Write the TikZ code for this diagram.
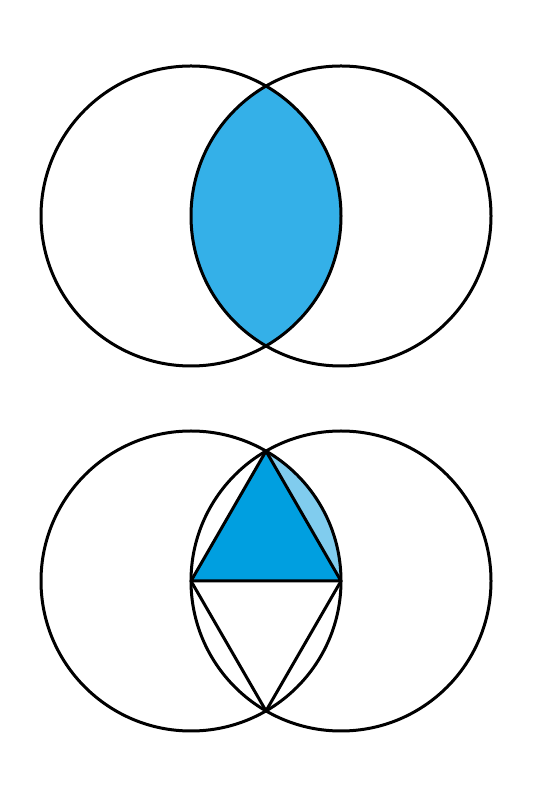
\documentclass[tikz,border=0pt]{standalone}
\begin{document}
\begin{tikzpicture}[x=1pt,y=1pt,
  outline/.style={draw=black,line width=3pt,line join=round},
  lensfill/.style={fill={rgb,255:red,52;green,176;blue,232}},
  trifill/.style={fill={rgb,255:red,0;green,159;blue,224}},
  segfill/.style={fill={rgb,255:red,128;green,204;blue,238}}]
\useasboundingbox (0,0) rectangle (533,800);
% top pair
\coordinate (TL) at (191,584);
\coordinate (TR) at (341,584);
\begin{scope}
  \clip (TL) circle[radius=150];
  \path[lensfill] (TR) circle[radius=150];
\end{scope}
\draw[outline] (TL) circle[radius=150];
\draw[outline] (TR) circle[radius=150];
% bottom pair
\coordinate (BL) at (191,219);
\coordinate (BR) at (341,219);
\coordinate (top) at (266,348.9);
\coordinate (bot) at (266,89.1);
\path[segfill] (top) arc[start angle=60,end angle=0,radius=150] -- cycle;
\path[trifill] (BL) -- (top) -- (BR) -- cycle;
\draw[outline] (BL) circle[radius=150];
\draw[outline] (BR) circle[radius=150];
\draw[outline] (BL) -- (top) -- (BR) -- cycle;
\draw[outline] (BL) -- (bot) -- (BR);
\end{tikzpicture}
\end{document}
